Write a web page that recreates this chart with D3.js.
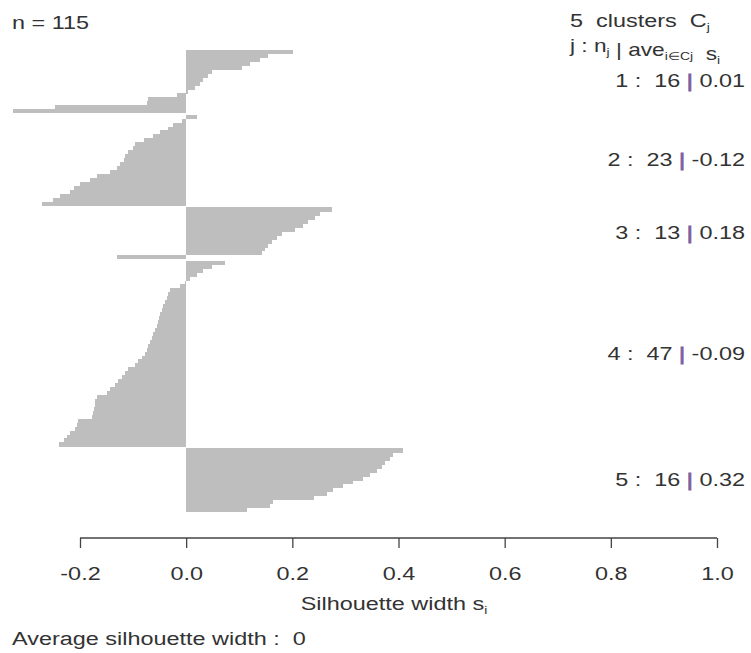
<!DOCTYPE html>
<html lang="en">
<head>
<meta charset="utf-8">
<title>Silhouette plot</title>
<script src="https://cdn.jsdelivr.net/npm/d3@7"></script>
<style>
  body { margin: 0; background: #fff; }
  svg text { font-family: "Liberation Sans", Arial, sans-serif; fill: #333; }
</style>
</head>
<body>
<svg id="chart" width="751" height="653"></svg>
<script>
// silhouette widths per cluster, sorted from top to bottom
const sil1 = [0.201, 0.155, 0.139, 0.12, 0.105, 0.048, 0.042, 0.032, 0.026, 0.017, 0.004,
  -0.018, -0.071, -0.074, -0.247, -0.326]
const sil2 = [0.02, -0.008, -0.024, -0.034, -0.049, -0.062, -0.08, -0.096, -0.1, -0.109, -0.115,
  -0.118, -0.124, -0.13, -0.143, -0.168, -0.181, -0.2, -0.212, -0.218, -0.237, -0.25, -0.272]
const sil3 = [0.274, 0.252, 0.243, 0.23, 0.22, 0.205, 0.18, 0.171, 0.161, 0.155, 0.149, 0.143, -0.13]
const sil4 = [0.073, 0.048, 0.032, 0.02, 0.008, -0.003, -0.011, -0.03, -0.034, -0.036, -0.04,
  -0.043, -0.046, -0.049, -0.051, -0.053, -0.055, -0.058, -0.062, -0.065, -0.068, -0.071,
  -0.074, -0.077, -0.083, -0.09, -0.096, -0.109, -0.115, -0.121, -0.128, -0.134, -0.143,
  -0.149, -0.168, -0.171, -0.171, -0.173, -0.175, -0.178, -0.203, -0.205, -0.209, -0.218,
  -0.225, -0.231, -0.24]
const sil5 = [0.409, 0.39, 0.384, 0.375, 0.369, 0.359, 0.347, 0.334, 0.315, 0.296, 0.277,
  0.265, 0.24, 0.164, 0.158, 0.114]
const clusters = [sil1, sil2, sil3, sil4, sil5]
const aveLabels = ["0.01", "-0.12", "0.18", "-0.09", "0.32"]
const tickValues = [-0.2, 0.0, 0.2, 0.4, 0.6, 0.8, 1.0]
const avgWidth = "0"

const svg = d3.select("#chart")
const sx = 1.26   // the picture is stretched sideways
const fs = 18.6
const gap = 0.5   // space between clusters, in bar widths
const sp = "\u00a0"

// one row per observation, with its slot on the y axis
let rows = []
let slot = 0
clusters.forEach((c, k) => {
  if (k > 0) slot += gap
  c.forEach(v => { rows.push({ k: k, s: v, pos: slot }); slot += 1 })
})

const x = d3.scaleLinear().domain([-0.2, 1]).range([80, 717])
const y = d3.scaleLinear().domain([0, slot]).range([49.5, 511.5])

svg.append("g")
  .attr("shape-rendering", "crispEdges")
  .selectAll("rect")
  .data(rows).enter()
  .append("rect")
  .attr("x", d => x(Math.min(0, d.s)))
  .attr("width", d => Math.abs(x(d.s) - x(0)))
  .attr("y", d => y(d.pos))
  .attr("height", d => y(d.pos + 1) - y(d.pos) + 0.6)
  .attr("fill", "#bebebe")

// x axis
const axis = svg.append("g")
  .attr("transform", "translate(0,538)")
  .call(d3.axisBottom(x).tickValues(tickValues).tickFormat(d => d.toFixed(1)).tickSize(10).tickSizeOuter(0))
axis.select(".domain").remove()
axis.append("line")
  .attr("x1", x(-0.2)).attr("x2", x(1))
  .attr("stroke", "#444").attr("stroke-width", 1.3)
axis.selectAll(".tick line").attr("stroke", "#444").attr("stroke-width", 1.3)
axis.selectAll(".tick text")
  .attr("y", 42).attr("dy", null)
  .attr("transform", `scale(${sx},1)`)
  .attr("fill", "#333")
  .style("font-size", fs + "px")
  .style("font-family", '"Liberation Sans", Arial, sans-serif')

function label(px, py, anchor, size) {
  return svg.append("text")
    .attr("transform", `translate(${px},${py}) scale(${sx},1)`)
    .attr("text-anchor", anchor)
    .style("font-size", (size || fs) + "px")
}
function sub(t, txt) {
  t.append("tspan").attr("dy", 4).style("font-size", "11px").text(txt)
  t.append("tspan").attr("dy", -4).text("")
}

label(12, 29, "start").text("n = 115")

let h1 = label(570, 27, "start")
h1.append("tspan").text(`5${sp}${sp}clusters${sp}${sp}C`)
sub(h1, "j")

let h2 = label(570, 52, "start", 18)
h2.append("tspan").text(`j${sp}:${sp}n`)
sub(h2, "j")
h2.append("tspan").text(`${sp}|${sp}ave`)
sub(h2, "i\u2208Cj")
h2.append("tspan").text(`${sp}${sp}s`)
sub(h2, "i")

// cluster summaries at the middle of each cluster
let start = 0
clusters.forEach((c, k) => {
  const mid = start + k * gap + c.length / 2
  start += c.length
  const t = label(745, y(mid) + 6, "end")
  t.append("tspan").text(`${k + 1}${sp}:${sp}${sp}${c.length}${sp}`)
  t.append("tspan").attr("fill", "#7d5fa0")
    .attr("stroke", "#7d5fa0").attr("stroke-width", 0.8).text("|")
  t.append("tspan").text(`${sp}${aveLabels[k]}`)
})

let xl = label(394, 610, "middle")
xl.append("tspan").text("Silhouette width s")
sub(xl, "i")

label(12, 645, "start").text(`Average silhouette width${sp}:${sp}${sp}${avgWidth}`)
</script>
</body>
</html>
